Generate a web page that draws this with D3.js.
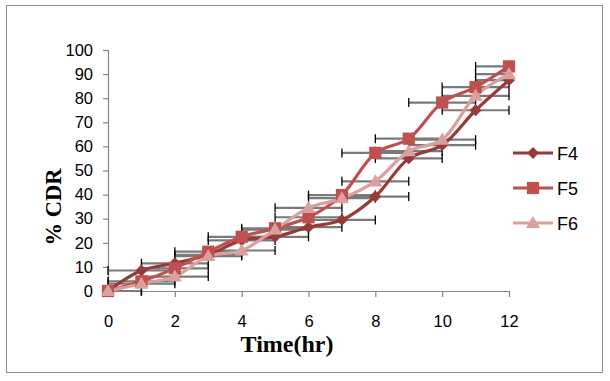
<!DOCTYPE html>
<html>
<head>
<meta charset="utf-8">
<script src="https://cdn.jsdelivr.net/npm/d3@7"></script>
<style>
  html, body { margin: 0; padding: 0; background: #fff; }
  svg { display: block; }
</style>
</head>
<body>
<svg id="chart" width="610" height="381"></svg>
<script>
const times = [0, 1, 2, 3, 4, 5, 6, 7, 8, 9, 10, 11, 12];
const f4 = [0, 8.5, 11.5, 15, 21, 22.5, 26.5, 29.5, 39.2, 55, 60.5, 75, 87.5];
const f5 = [0, 4, 9.4, 16.3, 22.5, 26, 30.6, 39.8, 57.3, 63.2, 78.2, 84.6, 93.2];
const f6 = [0, 3, 6, 14.5, 16.8, 25.5, 34.5, 38.5, 45.5, 58, 62.8, 81, 90];
const xError = [1, 1, 1, 1, 1, 1, 1, 1, 1, 1, 1, 1, 1];
const seriesNames = ["F4", "F5", "F6"];
const yTicks = [0, 10, 20, 30, 40, 50, 60, 70, 80, 90, 100];
const xTicks = [0, 2, 4, 6, 8, 10, 12];

const colors = { F4: "#973a38", F5: "#c0504d", F6: "#d9a09e" };
const symbols = { F4: d3.symbolSquare, F5: d3.symbolSquare, F6: d3.symbolTriangle };
const symSize = { F4: 70, F5: 150, F6: 85 };
const symRot = { F4: 45, F5: 0, F6: 0 };
const symDy = { F4: 0, F5: 0, F6: 1 };

const series = [
  { name: "F4", values: f4 },
  { name: "F5", values: f5 },
  { name: "F6", values: f6 }
];

const svg = d3.select("#chart");

// outer border
svg.append("rect")
  .attr("x", 6.5).attr("y", 5.5).attr("width", 596).attr("height", 367)
  .attr("fill", "#fff").attr("stroke", "#8c8c8c").attr("stroke-width", 1);

const x = d3.scaleLinear().domain([0, 12]).range([108, 509]);
const y = d3.scaleLinear().domain([0, 100]).range([291, 50]);

const axisColor = "#868686";
const tickFont = "'Liberation Sans', Arial, sans-serif";

// Y axis
const yAxis = svg.append("g")
  .attr("transform", `translate(${x(0)},0)`)
  .call(d3.axisLeft(y).tickValues(yTicks).tickSize(5).tickPadding(10).tickFormat(d3.format("d")));
yAxis.select(".domain").attr("stroke", axisColor).attr("stroke-width", 1.2);
yAxis.selectAll(".tick line").attr("stroke", axisColor).attr("stroke-width", 1.2);
yAxis.selectAll(".tick text")
  .attr("font-family", tickFont).attr("font-size", 16.5).attr("fill", "#000");

// X axis
const xAxis = svg.append("g")
  .attr("transform", `translate(0,${y(0)})`)
  .call(d3.axisBottom(x).tickValues(xTicks).tickSize(6).tickSizeOuter(0).tickPadding(18).tickFormat(d3.format("d")));
xAxis.select(".domain").attr("stroke", axisColor).attr("stroke-width", 1.2);
xAxis.selectAll(".tick line").attr("stroke", axisColor).attr("stroke-width", 1.2);
xAxis.selectAll(".tick text")
  .attr("font-family", tickFont).attr("font-size", 16.5).attr("fill", "#000");

// Axis titles
svg.append("text")
  .attr("x", 287).attr("y", 352)
  .attr("text-anchor", "middle")
  .attr("font-family", "'Liberation Serif', 'Times New Roman', serif")
  .attr("font-weight", "bold").attr("font-size", 24)
  .text("Time(hr)");

svg.append("text")
  .attr("transform", "translate(61,207) rotate(-90)")
  .attr("text-anchor", "middle")
  .attr("font-family", "'Liberation Serif', 'Times New Roman', serif")
  .attr("font-weight", "bold").attr("font-size", 22.5)
  .text("% CDR");

// Error bars (horizontal)
const eb = svg.append("g");
series.forEach(s => {
  s.values.forEach((v, i) => {
    const t = times[i];
    const lo = Math.max(0, t - xError[i]);
    const hi = Math.min(12, t + xError[i]);
    eb.append("line")
      .attr("x1", x(lo)).attr("x2", x(hi))
      .attr("y1", y(v)).attr("y2", y(v))
      .attr("stroke", "#7a7a7a").attr("stroke-width", 2.2);
    [[t - xError[i], lo], [t + xError[i], hi]].forEach(([raw, clipped]) => {
      if (raw === clipped) {
        eb.append("line")
          .attr("x1", x(clipped)).attr("x2", x(clipped))
          .attr("y1", y(v) - 4.5).attr("y2", y(v) + 4.5)
          .attr("stroke", "#000").attr("stroke-width", 1.3);
      }
    });
  });
});

// Lines
const line = d3.line()
  .x((d, i) => x(times[i]))
  .y(d => y(d))
  .curve(d3.curveCatmullRom.alpha(0.5));

series.forEach(s => {
  svg.append("path")
    .datum(s.values)
    .attr("d", line)
    .attr("fill", "none")
    .attr("stroke", colors[s.name])
    .attr("stroke-width", 3.2)
    .attr("stroke-linejoin", "round");
});

// Markers
series.forEach(s => {
  svg.append("g").selectAll("path")
    .data(s.values)
    .join("path")
    .attr("transform", (d, i) => `translate(${x(times[i])},${y(d) + symDy[s.name]}) rotate(${symRot[s.name]})`)
    .attr("d", d3.symbol().type(symbols[s.name]).size(symSize[s.name]))
    .attr("fill", colors[s.name]);
});

// Legend
const legendY = [153, 188, 223];
const leg = svg.append("g");
series.forEach((s, k) => {
  const ly = legendY[k];
  leg.append("line")
    .attr("x1", 513).attr("x2", 553).attr("y1", ly).attr("y2", ly)
    .attr("stroke", colors[s.name]).attr("stroke-width", 3.2);
  leg.append("path")
    .attr("transform", `translate(533,${ly + symDy[s.name]}) rotate(${symRot[s.name]})`)
    .attr("d", d3.symbol().type(symbols[s.name]).size(symSize[s.name]))
    .attr("fill", colors[s.name]);
  leg.append("text")
    .attr("x", 557).attr("y", ly + 6.5)
    .attr("font-family", tickFont).attr("font-size", 18).attr("fill", "#000")
    .text(s.name);
});
</script>
</body>
</html>
